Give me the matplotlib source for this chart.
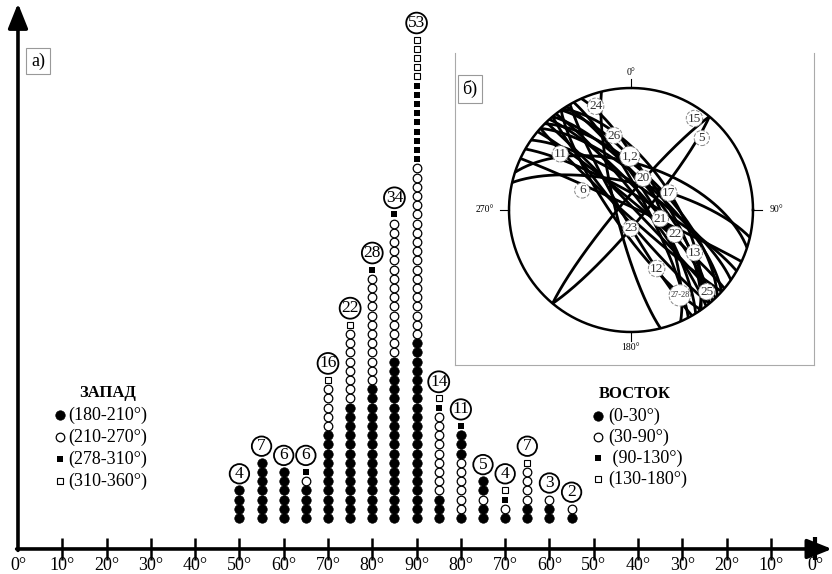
import numpy as np
import matplotlib.pyplot as plt

plt.rcParams['font.family'] = ['Liberation Serif', 'DejaVu Serif']

# --- data -------------------------------------------------------------
# angle of each column on the west and east halves of the axis
west_angle = [50, 55, 60, 65, 70, 75, 80, 85, 90]
east_angle = [85, 80, 75, 70, 65, 60, 55]

# stacks bottom -> top as (symbol, count)
# f - filled circle, o - open circle, s - filled square, q - open square
west_stacks = [
    [('f', 4)],
    [('f', 7)],
    [('f', 6)],
    [('f', 4), ('o', 1), ('s', 1)],
    [('f', 10), ('o', 5), ('q', 1)],
    [('f', 13), ('o', 8), ('q', 1)],
    [('f', 15), ('o', 12), ('s', 1)],
    [('f', 18), ('o', 15), ('s', 1)],
    [('f', 20), ('o', 19), ('s', 9), ('q', 5)],
]
east_stacks = [
    [('f', 3), ('o', 9), ('s', 1), ('q', 1)],
    [('f', 1), ('o', 6), ('f', 3), ('s', 1)],
    [('f', 2), ('o', 1), ('f', 2)],
    [('f', 1), ('o', 1), ('s', 1), ('q', 1)],
    [('f', 2), ('o', 4), ('q', 1)],
    [('f', 2), ('o', 1)],
    [('f', 1), ('o', 1)],
]

tick_text = ['0°', '10°', '20°', '30°', '40°', '50°', '60°', '70°', '80°', '90°',
             '80°', '70°', '60°', '50°', '40°', '30°', '20°', '10°', '0°']

west_legend = ['(180-210°)', '(210-270°)', '(278-310°)', '(310-360°)']
east_legend = ['(0-30°)', '(30-90°)', ' (90-130°)', '(130-180°)']

# planes for the stereonet (strike, dip; right hand rule)
plane_strike = [305, 310, 312, 315, 318, 320, 322, 325, 328, 332, 336, 300,
                316, 140, 145, 132, 150, 166, 288, 40, 220, 295, 283, 326]
plane_dip = [74, 85, 70, 66, 78, 72, 82, 68, 76, 80, 72, 80,
             88, 84, 78, 86, 84, 80, 59, 82, 83, 88, 72, 62]

net_labels = ['24', '15', '5', '26', '11', '1,2', '20', '6', '17', '21',
              '23', '22', '13', '12', '27-28', '25']
net_label_xy = [(-0.29, 0.85), (0.52, 0.75), (0.58, 0.59), (-0.14, 0.61),
                (-0.58, 0.46), (-0.01, 0.44), (0.10, 0.26), (-0.40, 0.16),
                (0.31, 0.14), (0.24, -0.07), (0.0, -0.15), (0.36, -0.20),
                (0.52, -0.35), (0.21, -0.48), (0.40, -0.70), (0.62, -0.67)]

W, H = 832, 574
fig = plt.figure(figsize=(W / 100, H / 100), dpi=100)

# main axes fill the figure; x in degrees along the axis, y in item counts
ax = fig.add_axes([0, 0, 1, 1])
ax.set_xlim(-4.06, 183.8)
ax.set_ylim(-2.72, 59.67)
ax.axis('off')

y0 = 3.37  # centre of the lowest symbol

styles = {
    'f': dict(marker='o', ms=6.8, mfc='black', mec='black', mew=0.5),
    'o': dict(marker='o', ms=6.2, mfc='white', mec='black', mew=0.9),
    's': dict(marker='s', ms=4.9, mfc='black', mec='black', mew=0),
    'q': dict(marker='s', ms=4.9, mfc='white', mec='black', mew=0.8),
}


def draw_column(xpos, stack):
    seq = []
    for sym, cnt in stack:
        seq += [sym] * cnt
    ys = y0 + np.arange(len(seq))
    for sym in styles:
        sel = [y for y, s in zip(ys, seq) if s == sym]
        if sel:
            ax.plot([xpos] * len(sel), sel, ls='none', **styles[sym])
    ax.text(xpos, ys[-1] + 1.8, str(len(seq)), ha='center', va='center',
            fontsize=12.5,
            bbox=dict(boxstyle='circle,pad=0.1', fc='white', ec='black', lw=1.3))


for a, st in zip(west_angle, west_stacks):
    draw_column(a, st)
for a, st in zip(east_angle, east_stacks):
    draw_column(180 - a, st)

# axes with arrows
arrow = dict(arrowstyle='-|>,head_length=0.75,head_width=0.3', lw=2.6,
             color='black', shrinkA=0, shrinkB=0, mutation_scale=20)
ax.annotate('', xy=(183.8, 0), xytext=(-0.3, 0), arrowprops=arrow,
            annotation_clip=False)
ax.annotate('', xy=(0, 59.3), xytext=(0, -0.15), arrowprops=arrow,
            annotation_clip=False)

tick_pos = np.arange(0, 181, 10)
ax.vlines(tick_pos[1:-1], -1.15, 1.15, color='black', lw=1.8)
ax.vlines([180], -1.25, 1.25, color='black', lw=3)
for p, t in zip(tick_pos, tick_text):
    ax.text(p, -1.75, t, ha='center', va='center', fontsize=13)


def fpos(x, y):
    return x / W, 1 - y / H


# legends
leg_marks = ['f', 'o', 's', 'q']
fig.text(*fpos(108, 393), 'ЗАПАД', ha='center', va='center', fontsize=12,
         fontweight='bold')
for i, (m, t) in enumerate(zip(leg_marks, west_legend)):
    yy = 415 + i * 22
    ax.plot(*fpos(60, yy), ls='none', transform=fig.transFigure, clip_on=False,
            **styles[m])
    fig.text(*fpos(68, yy), t, ha='left', va='center', fontsize=13)

fig.text(*fpos(635, 394), 'ВОСТОК', ha='center', va='center', fontsize=12,
         fontweight='bold')
for i, (m, t) in enumerate(zip(leg_marks, east_legend)):
    yy = 416 + i * 21
    ax.plot(*fpos(598, yy), ls='none', transform=fig.transFigure, clip_on=False,
            **styles[m])
    fig.text(*fpos(608, yy), t, ha='left', va='center', fontsize=13)

# panel labels
fig.text(*fpos(38, 61), 'а)', ha='center', va='center', fontsize=13,
         bbox=dict(boxstyle='square,pad=0.25', fc='white', ec='#999999', lw=0.8))

# frame of the inset panel
frame = fig.add_axes([455 / W, 1 - 365 / H, (814 - 455) / W, (365 - 53) / H])
frame.set_facecolor('none')
frame.set_xticks([])
frame.set_yticks([])
frame.spines['top'].set_visible(False)
for sp in ['left', 'right', 'bottom']:
    frame.spines[sp].set_color('#aaaaaa')
    frame.spines[sp].set_linewidth(0.8)
fig.text(*fpos(470, 89), 'б)', ha='center', va='center', fontsize=13,
         bbox=dict(boxstyle='square,pad=0.25', fc='white', ec='#999999', lw=0.8))

# stereonet (equal-area, lower hemisphere)
cx, cy, R, half = 631, 210, 122, 140
net = fig.add_axes([(cx - half) / W, 1 - (cy + half) / H, 2 * half / W, 2 * half / H])
lim = half / R
net.set_xlim(-lim, lim)
net.set_ylim(-lim, lim)
net.axis('off')


def great_circle(strike, dip, n=200):
    s = np.radians(strike)
    d = np.radians(dip)
    t = np.linspace(0, np.pi, n)
    sv = np.array([np.sin(s), np.cos(s), 0.0])
    dd = s + np.pi / 2
    dv = np.array([np.sin(dd) * np.cos(d), np.cos(dd) * np.cos(d), np.sin(d)])
    v = np.outer(np.cos(t), sv) + np.outer(np.sin(t), dv)
    plunge = np.arcsin(np.clip(v[:, 2], -1, 1))
    trend = np.arctan2(v[:, 0], v[:, 1])
    r = np.sqrt(2) * np.sin((np.pi / 2 - plunge) / 2)
    return r * np.sin(trend), r * np.cos(trend)


for s, d in zip(plane_strike, plane_dip):
    gx, gy = great_circle(s, d)
    net.plot(gx, gy, color='black', lw=2.0, solid_capstyle='butt')

th = np.linspace(0, 2 * np.pi, 400)
net.plot(np.cos(th), np.sin(th), color='black', lw=1.8)
for ang in [0, 90, 180, 270]:
    a = np.radians(ang)
    net.plot([np.sin(a), 1.07 * np.sin(a)], [np.cos(a), 1.07 * np.cos(a)],
             color='black', lw=0.8)
net.text(0, 1.13, '0°', ha='center', va='center', fontsize=7)
net.text(1.14, 0, '90°', ha='left', va='center', fontsize=7)
net.text(-1.12, 0, '270°', ha='right', va='center', fontsize=7)
net.text(0, -1.13, '180°', ha='center', va='center', fontsize=7)

for lab, (lx, ly) in zip(net_labels, net_label_xy):
    net.text(lx, ly, lab, ha='center', va='center',
             fontsize=6 if len(lab) > 3 else 9.5, color='#333333',
             bbox=dict(boxstyle='circle,pad=0.12', fc='white', ec='#888888',
                       lw=0.7, ls='--'))

fig.savefig('out.png', dpi=100)
